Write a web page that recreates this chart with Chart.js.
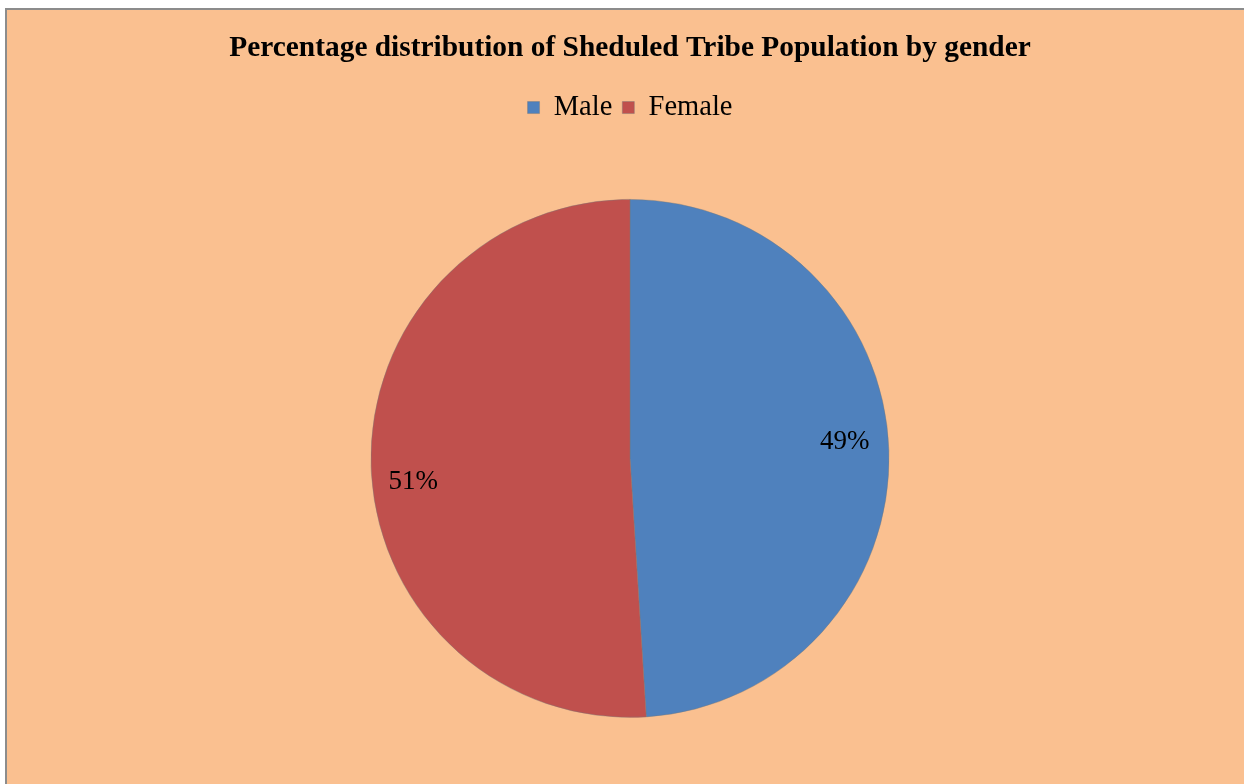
<!DOCTYPE html>
<html>
<head>
<meta charset="utf-8">
<script src="https://cdn.jsdelivr.net/npm/chart.js@4"></script>
<style>
    body { margin: 0; background: #ffffff; overflow: hidden; }
    .chart-box {
        position: absolute;
        left: 5px;
        top: 8px;
        width: 1246px;
        height: 790px;
        background: #FAC090;
        border: 2px solid #8c8c8c;
    }
</style>
</head>
<body>
<div class="chart-box">
    <canvas id="pieChart" width="1246" height="790"></canvas>
</div>
<script>
// Dados do gráfico
const categories = ['Male', 'Female'];
const shares = [49, 51];
const sliceColors = ['#4F81BD', '#C0504D'];
const chartTitle = 'Percentage distribution of Sheduled Tribe Population by gender';

// Rótulos de percentagem dentro das fatias
const percentLabels = {
    id: 'percentLabels',
    afterDatasetsDraw(chart, args, opts) {
        const ctx = chart.ctx;
        const meta = chart.getDatasetMeta(0);
        ctx.save();
        ctx.font = '27px "Liberation Serif", "Times New Roman", serif';
        ctx.fillStyle = '#000000';
        ctx.textAlign = 'center';
        ctx.textBaseline = 'middle';
        meta.data.forEach((arc, i) => {
            const mid = (arc.startAngle + arc.endAngle) / 2;
            const r = arc.outerRadius * opts.radiusFactor;
            const dx = opts.nudgeX[i] || 0;
            const dy = opts.nudgeY[i] || 0;
            const x = arc.x + Math.cos(mid) * r + dx;
            const y = arc.y + Math.sin(mid) * r + dy;
            ctx.fillText(chart.data.datasets[0].data[i] + '%', x, y);
        });
        ctx.restore();
    }
};

const ctx = document.getElementById('pieChart').getContext('2d');
new Chart(ctx, {
    type: 'pie',
    data: {
        labels: categories,
        datasets: [{
            data: shares,
            backgroundColor: sliceColors,
            borderColor: 'rgba(120,120,120,0.7)',
            borderWidth: 0.6,
            radius: 259
        }]
    },
    options: {
        responsive: false,
        animation: false,
        layout: { padding: { top: 0, bottom: 15 } },
        plugins: {
            title: {
                display: true,
                text: chartTitle,
                color: '#000000',
                font: { family: '"Liberation Serif", "Times New Roman", serif', size: 29.4, weight: 'bold' },
                padding: { top: 21, bottom: 17 }
            },
            legend: {
                display: true,
                position: 'top',
                labels: {
                    color: '#000000',
                    boxWidth: 12,
                    boxHeight: 12,
                    padding: 10,
                    font: { family: '"Liberation Serif", "Times New Roman", serif', size: 28.5 }
                }
            },
            tooltip: { enabled: false },
            percentLabels: { radiusFactor: 0.83, nudgeX: [0, -2], nudgeY: [-10, 17] }
        }
    },
    plugins: [percentLabels]
});
</script>
</body>
</html>
